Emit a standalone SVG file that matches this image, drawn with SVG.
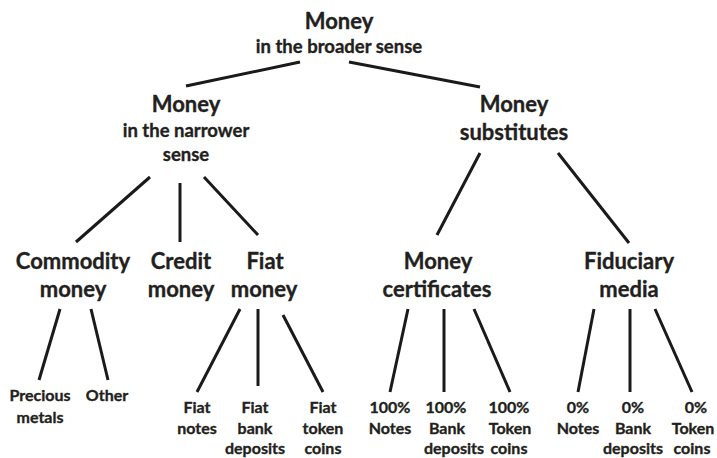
<svg xmlns="http://www.w3.org/2000/svg" width="717" height="458" viewBox="0 0 717 458">
<style>
text{font-family:Lato,"Open Sans","Liberation Sans",sans-serif;font-weight:bold;fill:#231f20;stroke:#231f20;stroke-width:0.35;text-anchor:middle}
.t{font-size:22px}
.s{font-size:18.5px}
.m{font-size:22px}
.l{font-size:16px}
#connectors line{stroke:#1a1a1a;stroke-width:3;stroke-linecap:butt}
</style>
<rect width="717" height="458" fill="#fff"/>
<g id="connectors">
<line x1="300" y1="62" x2="186" y2="86"/>
<line x1="349" y1="62" x2="480" y2="87"/>
<line x1="150" y1="177" x2="76" y2="242"/>
<line x1="180" y1="183" x2="180" y2="242"/>
<line x1="204" y1="177" x2="258" y2="235"/>
<line x1="480" y1="153" x2="437" y2="235"/>
<line x1="558" y1="153" x2="629" y2="243"/>
<line x1="60" y1="309" x2="39" y2="380"/>
<line x1="91" y1="309" x2="108" y2="380"/>
<line x1="240" y1="309" x2="197" y2="392"/>
<line x1="258" y1="309" x2="258" y2="386"/>
<line x1="283" y1="315" x2="323" y2="392"/>
<line x1="408" y1="309" x2="390" y2="392"/>
<line x1="444" y1="309" x2="444" y2="392"/>
<line x1="474" y1="309" x2="510" y2="392"/>
<line x1="594" y1="309" x2="578" y2="392"/>
<line x1="630" y1="309" x2="630" y2="392"/>
<line x1="655" y1="309" x2="692" y2="392"/>
</g>
<g id="root"><text class="t" x="339" y="29">Money</text><text class="s" x="339" y="53">in the broader sense</text></g>
<g id="narrow"><text class="t" x="186" y="112">Money</text><text class="s" x="186" y="137">in the narrower</text><text class="s" x="186" y="161">sense</text></g>
<g id="substitutes"><text class="t" x="514" y="112">Money</text><text class="t" x="514" y="140">substitutes</text></g>
<g id="commodity"><text class="m" x="73" y="269">Commodity</text><text class="m" x="73" y="297">money</text></g>
<g id="credit"><text class="m" x="181" y="269">Credit</text><text class="m" x="181" y="297">money</text></g>
<g id="fiat"><text class="m" x="265" y="269">Fiat</text><text class="m" x="264" y="297">money</text></g>
<g id="certificates"><text class="m" x="438" y="269">Money</text><text class="m" x="437" y="297">certificates</text></g>
<g id="fiduciary"><text class="m" x="629" y="269">Fiduciary</text><text class="m" x="629" y="297">media</text></g>
<g id="precious"><text class="l" x="40" y="401">Precious</text><text class="l" x="40" y="423">metals</text></g>
<g id="other"><text class="l" x="107" y="401">Other</text></g>
<g id="fiat-notes"><text class="l" x="197" y="413">Fiat</text><text class="l" x="197" y="434">notes</text></g>
<g id="fiat-bank"><text class="l" x="255" y="413">Fiat</text><text class="l" x="255" y="434">bank</text><text class="l" x="255" y="454">deposits</text></g>
<g id="fiat-token"><text class="l" x="323" y="413">Fiat</text><text class="l" x="323" y="434">token</text><text class="l" x="323" y="454">coins</text></g>
<g id="cert-notes"><text class="l" x="390" y="413">100%</text><text class="l" x="390" y="434">Notes</text></g>
<g id="cert-bank"><text class="l" x="446" y="413">100%</text><text class="l" x="447" y="434">Bank</text><text class="l" x="454" y="454">deposits</text></g>
<g id="cert-token"><text class="l" x="509" y="413">100%</text><text class="l" x="510" y="434">Token</text><text class="l" x="509" y="454">coins</text></g>
<g id="fid-notes"><text class="l" x="578" y="413">0%</text><text class="l" x="578" y="434">Notes</text></g>
<g id="fid-bank"><text class="l" x="633" y="413">0%</text><text class="l" x="633" y="434">Bank</text><text class="l" x="633" y="454">deposits</text></g>
<g id="fid-token"><text class="l" x="696" y="413">0%</text><text class="l" x="693" y="434">Token</text><text class="l" x="692" y="454">coins</text></g>
</svg>
